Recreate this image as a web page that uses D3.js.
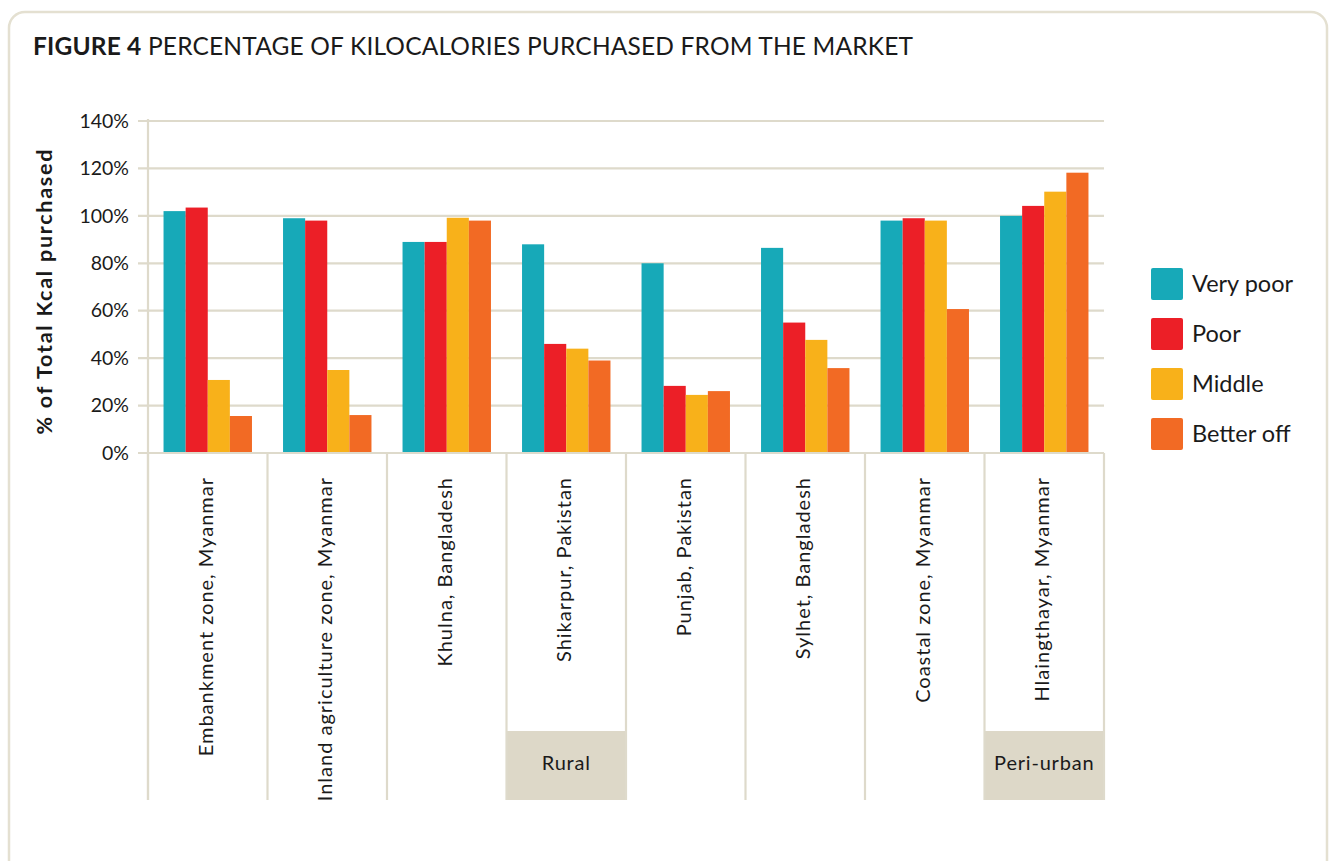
<!DOCTYPE html>
<html>
<head>
<meta charset="utf-8">
<script src="https://cdn.jsdelivr.net/npm/d3@7"></script>
<style>
  html, body { margin: 0; padding: 0; background: #ffffff; }
  svg { display: block; }
  text { font-family: Lato, "Open Sans", sans-serif; fill: #1a1a1a; }
</style>
</head>
<body>
<svg id="chart" width="1329" height="861"></svg>
<script>
// ---- Data ----
const categories = [
  "Embankment zone, Myanmar",
  "Inland agriculture zone, Myanmar",
  "Khulna, Bangladesh",
  "Shikarpur, Pakistan",
  "Punjab, Pakistan",
  "Sylhet, Bangladesh",
  "Coastal zone, Myanmar",
  "Hlaingthayar, Myanmar"
];
const seriesNames = ["Very poor", "Poor", "Middle", "Better off"];
const veryPoor  = [102, 99, 89, 88, 80, 86.5, 98, 100];
const poor      = [103.5, 98, 89, 46, 28.3, 55, 99, 104.2];
const middle    = [30.8, 35, 99.2, 44, 24.5, 47.7, 98, 110.2];
const betterOff = [15.6, 16, 98, 39, 26.1, 35.8, 60.7, 118.2];
const yTicks = [0, 20, 40, 60, 80, 100, 120, 140];
const groupLabels = [
  { label: "Rural", category: "Shikarpur, Pakistan" },
  { label: "Peri-urban", category: "Hlaingthayar, Myanmar" }
];
const colors = ["#17A9B8", "#EC1F27", "#F8B11A", "#F26A24"];

const seriesValues = [veryPoor, poor, middle, betterOff];
const rows = categories.map((c, i) => ({
  category: c,
  values: seriesNames.map((s, j) => ({ key: s, value: seriesValues[j][i] }))
}));

// ---- Layout ----
const svg = d3.select("#chart");
const gridColor = "#DEDACB";
const plotLeft = 148, plotRight = 1104, plotTop = 121, plotBottom = 453, catBottom = 800, boxTop = 731;

// Frame
svg.append("rect")
  .attr("x", 9).attr("y", 12).attr("width", 1318).attr("height", 870)
  .attr("rx", 16).attr("ry", 16)
  .attr("fill", "none").attr("stroke", "#E4E0D1").attr("stroke-width", 2.5);

// Title
const title = svg.append("text")
  .attr("x", 33).attr("y", 55)
  .style("font-size", "24.5px");
title.append("tspan").style("font-weight", "bold").text("FIGURE 4");
title.append("tspan").text(" PERCENTAGE OF KILOCALORIES PURCHASED FROM THE MARKET");
title.attr("textLength", 880).attr("lengthAdjust", "spacing");

// Scales
const x0 = d3.scaleBand().domain(categories).range([plotLeft, plotRight])
  .paddingInner(0.26).paddingOuter(0.13);
const step = x0.step();
const x1 = d3.scaleBand().domain(seriesNames).range([0, x0.bandwidth()]);
const y = d3.scaleLinear().domain([0, 140]).range([plotBottom, plotTop]);

// Gridlines + tick marks
svg.append("g").selectAll("line").data(yTicks).join("line")
  .attr("x1", plotLeft - 10).attr("x2", plotRight)
  .attr("y1", d => y(d)).attr("y2", d => y(d))
  .attr("stroke", gridColor).attr("stroke-width", 2.2);

// Y axis line
svg.append("line")
  .attr("x1", plotLeft).attr("x2", plotLeft).attr("y1", plotTop - 2).attr("y2", catBottom)
  .attr("stroke", gridColor).attr("stroke-width", 2.2);

// Y tick labels
const yAxis = d3.axisLeft(y).tickValues(yTicks).tickFormat(d => d + "%").tickSize(0).tickPadding(19);
const yg = svg.append("g").attr("transform", `translate(${plotLeft},0)`).call(yAxis);
yg.select(".domain").remove();
yg.selectAll("text").style("font-size", "19.5px").style("font-family", "Lato, 'Open Sans', sans-serif").attr("fill", "#1a1a1a");

// Y axis title
svg.append("text")
  .attr("transform", `translate(52,${(plotTop + plotBottom) / 2 + 5}) rotate(-90)`)
  .attr("text-anchor", "middle")
  .attr("textLength", 285).attr("lengthAdjust", "spacing")
  .style("font-size", "21.5px").style("font-weight", "bold")
  .text("% of Total Kcal purchased");

// Category separators
const bounds = categories.map(c => x0(c) - x0.step() * x0.paddingOuter()).concat([plotRight]);
// Group boxes
groupLabels.forEach(g => {
  const bx = x0(g.category) - step * x0.paddingOuter();
  svg.append("rect").attr("x", bx).attr("y", boxTop).attr("width", step).attr("height", catBottom - boxTop)
    .attr("fill", "#DDD8C8");
  svg.append("text").attr("x", bx + step / 2).attr("y", boxTop + 39)
    .attr("text-anchor", "middle").style("font-size", "20px").style("letter-spacing", "0.8px").text(g.label);
});
svg.append("g").selectAll("line").data(bounds).join("line")
  .attr("x1", d => d).attr("x2", d => d).attr("y1", plotBottom).attr("y2", catBottom)
  .attr("stroke", gridColor).attr("stroke-width", 2.2);

// Bars
const groups = svg.append("g").selectAll("g").data(rows).join("g")
  .attr("transform", d => `translate(${x0(d.category)},0)`);
groups.selectAll("rect").data(d => d.values).join("rect")
  .attr("x", d => x1(d.key))
  .attr("width", x1.bandwidth())
  .attr("y", d => y(d.value))
  .attr("height", d => y(0) - y(d.value) - 1)
  .attr("fill", (d, i) => colors[i]);

// Category labels
svg.append("g").selectAll("text").data(categories).join("text")
  .attr("transform", d => `translate(${x0(d) + x0.bandwidth() / 2 - 2},477) rotate(-90)`)
  .attr("text-anchor", "end").attr("dy", "0.35em")
  .style("font-size", "20px").style("letter-spacing", "1px")
  .text(d => d);

// Legend
const legend = svg.append("g").selectAll("g").data(seriesNames).join("g")
  .attr("transform", (d, i) => `translate(1151,${268 + i * 50})`);
legend.append("rect").attr("width", 32).attr("height", 32).attr("rx", 2)
  .attr("fill", (d, i) => colors[i]);
legend.append("text").attr("x", 41).attr("y", 16).attr("dy", "0.35em")
  .style("font-size", "23.5px").text(d => d);
</script>
</body>
</html>
